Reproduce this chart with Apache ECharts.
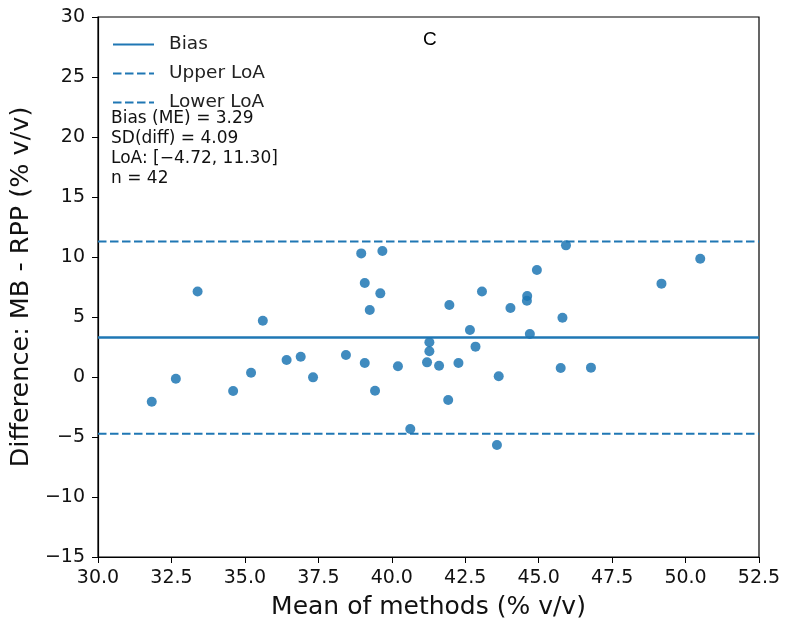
<!DOCTYPE html>
<html>
<head>
<meta charset="utf-8">
<title>Bland-Altman C</title>
<script src="https://cdn.jsdelivr.net/npm/echarts@6/dist/echarts.min.js"></script>
<style>
    html, body { margin: 0; padding: 0; background: #fff; }
    #chart { width: 789px; height: 627px; }
</style>
</head>
<body>
<div id="chart"></div>
<script type="text/javascript">
// mean of methods (x) and difference MB - RPP (y)
var meanVals = [31.83, 32.65, 33.39, 34.60, 35.21, 35.61, 36.42, 36.90, 37.32, 38.44,
    38.96, 39.68, 39.08, 39.61, 39.25, 39.08, 39.43, 40.21, 40.63, 41.28,
    41.28, 41.20, 41.61, 41.96, 41.92, 42.27, 42.66, 42.85, 43.07, 43.58,
    43.64, 44.04, 44.61, 44.60, 44.70, 44.94, 45.93, 45.81, 45.75, 46.78,
    49.18, 50.50];
var diffVals = [-2.06, -0.14, 7.13, -1.17, 0.36, 4.69, 1.42, 1.69, -0.03, 1.83,
    10.30, 10.50, 7.83, 6.97, 5.58, 1.17, -1.14, 0.89, -4.33, 2.89,
    2.14, 1.22, 0.94, 6.00, -1.92, 1.17, 3.92, 2.53, 7.13, -5.67,
    0.06, 5.75, 6.75, 6.36, 3.58, 8.92, 10.97, 4.94, 0.75, 0.78,
    7.78, 9.86];
var bias = 3.29, sdDiff = 4.09, loaLow = -4.72, loaHigh = 11.30;
var xTicks = [30, 52.5];
var yTicks = [-15, 30];

var points = meanVals.map(function (m, i) { return [m, diffVals[i]]; });
function hline(v) { return [[xTicks[0], v], [xTicks[1], v]]; }
function minus(v) { return v < 0 ? '\u2212' + Math.abs(v) : String(v); }

var blue = '#1f77b4';
var chart = echarts.init(document.getElementById('chart'));
chart.setOption({
    animation: false,
    textStyle: { fontFamily: 'DejaVu Sans' },
    grid: { left: 97, right: 30, top: 17, bottom: 70, show: true, borderColor: '#000', borderWidth: 1.2 },
    title: [{
        text: 'C', left: 418, top: 25,
        textStyle: { fontFamily: 'Liberation Sans', fontSize: 19, fontWeight: 'normal', color: '#000' }
    }, {
        text: 'Bias (ME) = ' + bias.toFixed(2) + '\nSD(diff) = ' + sdDiff.toFixed(2) +
            '\nLoA: [\u2212' + Math.abs(loaLow).toFixed(2) + ', ' + loaHigh.toFixed(2) + ']\nn = ' + points.length,
        left: 106, top: 104,
        textStyle: { fontSize: 17, fontWeight: 'normal', color: '#111', lineHeight: 20 }
    }],
    legend: {
        orient: 'vertical', left: 107, top: 30,
        itemWidth: 41, itemHeight: 18, itemGap: 10,
        itemStyle: { opacity: 0 },
        textStyle: { fontSize: 18.5, color: '#222', lineHeight: 18, padding: [0, 0, 0, 10] },
        data: ['Bias', 'Upper LoA', 'Lower LoA']
    },
    xAxis: {
        type: 'value', min: xTicks[0], max: xTicks[1], interval: 2.5,
        name: 'Mean of methods (% v/v)', nameLocation: 'middle', nameGap: 38,
        nameTextStyle: { fontSize: 25, color: '#111' },
        axisLine: { onZero: false, lineStyle: { color: '#000', width: 1.2 } },
        axisTick: { length: 6, lineStyle: { color: '#000' } },
        axisLabel: { fontSize: 19, color: '#111', margin: 12, formatter: function (v) { return v.toFixed(1); } },
        splitLine: { show: false }
    },
    yAxis: {
        type: 'value', min: yTicks[0], max: yTicks[1], interval: 5,
        name: 'Difference: MB - RPP (% v/v)', nameLocation: 'middle', nameGap: 64,
        nameTextStyle: { fontSize: 25.5, color: '#111' },
        axisLine: { onZero: false, lineStyle: { color: '#000', width: 1.2 } },
        axisTick: { length: 6, lineStyle: { color: '#000' } },
        axisLabel: { fontSize: 19, color: '#111', margin: 13, formatter: minus },
        splitLine: { show: false }
    },
    series: [{
        name: 'Points', type: 'scatter', data: points, symbolSize: 10, z: 3,
        itemStyle: { color: blue, opacity: 0.85 }
    }, {
        name: 'Bias', type: 'line', data: hline(bias), symbol: 'none', z: 2,
        lineStyle: { color: blue, width: 2.6 }, itemStyle: { color: blue }
    }, {
        name: 'Upper LoA', type: 'line', data: hline(loaHigh), symbol: 'none', z: 2,
        lineStyle: { color: blue, width: 2, type: [8.5, 3.5] }, itemStyle: { color: blue }
    }, {
        name: 'Lower LoA', type: 'line', data: hline(loaLow), symbol: 'none', z: 2,
        lineStyle: { color: blue, width: 2, type: [8.5, 3.5] }, itemStyle: { color: blue }
    }]
});
</script>
</body>
</html>
